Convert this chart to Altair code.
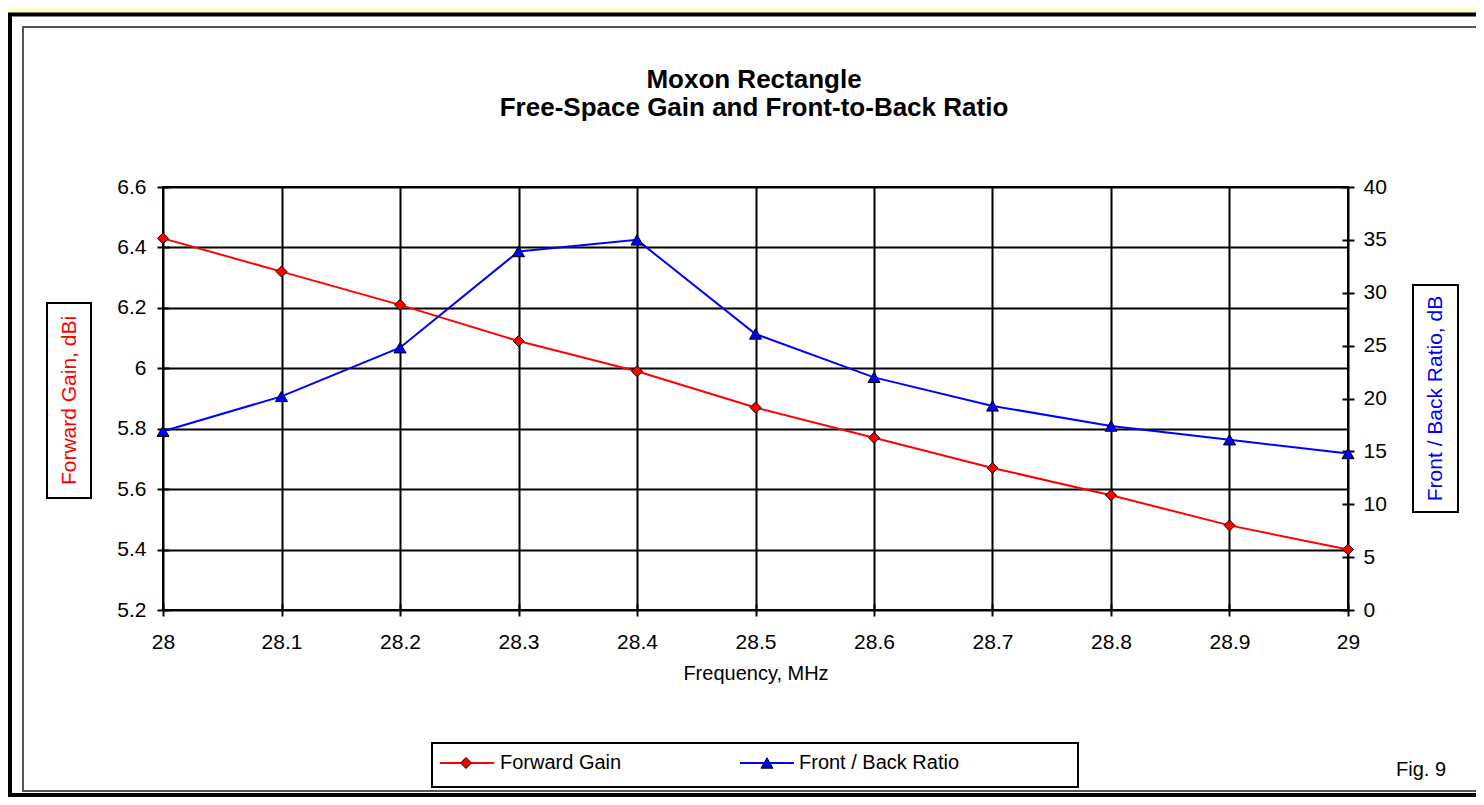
import altair as alt
import pandas as pd

# ---- data ----
freq = [28.0, 28.1, 28.2, 28.3, 28.4, 28.5, 28.6, 28.7, 28.8, 28.9, 29.0]
gain = [6.43, 6.32, 6.21, 6.09, 5.99, 5.87, 5.77, 5.67, 5.58, 5.48, 5.40]
fb = [16.9, 20.2, 24.8, 33.9, 35.0, 26.1, 22.0, 19.3, 17.4, 16.1, 14.8]

x_ticks = [28.0, 28.1, 28.2, 28.3, 28.4, 28.5, 28.6, 28.7, 28.8, 28.9, 29.0]
gain_ticks = [5.2, 5.4, 5.6, 5.8, 6.0, 6.2, 6.4, 6.6]
fb_ticks = [0, 5, 10, 15, 20, 25, 30, 35, 40]

title_lines = "Moxon Rectangle\nFree-Space Gain and Front-to-Back Ratio"
gain_label = "Forward Gain"
fb_label = "Front / Back Ratio"
gain_axis_title = "Forward Gain, dBi"
fb_axis_title = "Front / Back Ratio, dB"
x_title = "Frequency, MHz"
fig_label = "Fig. 9"

df = pd.DataFrame({"freq": freq, "gain": gain, "fb": fb})
one = pd.DataFrame({"k": [0]})

FONT = "Liberation Sans"
W, H = 1185, 423
PAD = {"left": 155, "top": 179, "right": 128, "bottom": 187}
YELLOW = "#FFFFC6"

x_enc = alt.X(
    "freq:Q",
    scale=alt.Scale(domain=[28, 29], nice=False, zero=False),
    axis=alt.Axis(
        orient="bottom", values=x_ticks, format="~f", title=x_title,
        offset=-6, tickSize=12, labelPadding=15, titlePadding=11, grid=True,
        labelFlush=False,
    ),
)

gain_chart = alt.Chart(df).mark_line(
    color="#FF0000", strokeWidth=2,
    point=alt.OverlayMarkDef(shape="diamond", filled=True, fill="#FF0000",
                             stroke="black", strokeWidth=1, size=121, opacity=1),
).encode(
    x=x_enc,
    y=alt.Y("gain:Q", scale=alt.Scale(domain=[5.2, 6.6], nice=False, zero=False),
            axis=alt.Axis(orient="left", values=gain_ticks, format="~f", title=None,
                          offset=-6, tickSize=12, labelPadding=11, grid=True,
                          labelFlush=False)),
)

fb_chart = alt.Chart(df).mark_line(
    color="#0000FF", strokeWidth=2,
    point=alt.OverlayMarkDef(shape="triangle-up", filled=True, fill="#0000FF",
                             stroke="black", strokeWidth=1, size=144, opacity=1),
).encode(
    x=x_enc,
    y=alt.Y("fb:Q", scale=alt.Scale(domain=[0, 40], nice=False, zero=True),
            axis=alt.Axis(orient="right", values=fb_ticks, format="~f", title=None,
                          offset=-6, tickSize=12, labelPadding=9, grid=False,
                          labelFlush=False)),
)


def box(x, x2, y, y2, **kw):
    return alt.Chart(one).mark_rect(**kw).encode(
        x=alt.value(x), x2=alt.value(x2), y=alt.value(y), y2=alt.value(y2))


def txt(t, x, y, **kw):
    base = dict(font=FONT, fontSize=20, color="black")
    base.update(kw)
    return alt.Chart(one).mark_text(**base).encode(
        x=alt.value(x), y=alt.value(y), text=alt.value(t))


def rule(x, x2, y, color):
    return alt.Chart(one).mark_rule(color=color, strokeWidth=2).encode(
        x=alt.value(x), x2=alt.value(x2), y=alt.value(y))


def sym(x, y, shape, color, size):
    return alt.Chart(one).mark_point(shape=shape, filled=True, fill=color,
                                     stroke="black", strokeWidth=1, size=size,
                                     opacity=1).encode(
        x=alt.value(x), y=alt.value(y))


# decorative frame
yellow_strip = box(-160, 1320, -185, -174, fill=YELLOW)
outer_frame = box(-153, 1330, -172.5, 608, fill="transparent", stroke="black", strokeWidth=4)
inner_frame = box(-140, 1330, -160, 604, fill="transparent", stroke="#555555", strokeWidth=2)
left_box = box(-116, -72, 116, 311, fill="transparent", stroke="black", strokeWidth=2)
right_box = box(1250, 1295, 98, 325, fill="transparent", stroke="black", strokeWidth=2)
legend_box = box(269, 915, 556, 600, fill="transparent", stroke="black", strokeWidth=2)

title = txt(title_lines, 591, -99, fontSize=26, fontWeight="bold",
            lineBreak="\n", lineHeight=28, align="center", baseline="alphabetic")
left_title = txt(gain_axis_title, -93, 213.5, angle=270, align="center",
                 baseline="middle", color="#FF0000", fontSize=21)
right_title = txt(fb_axis_title, 1273, 211.5, angle=270, align="center",
                  baseline="middle", color="#0000FF", fontSize=21)
fig = txt(fig_label, 1233, 583, align="left", baseline="middle")

leg = [
    rule(277, 331, 576, "#FF0000"),
    sym(303, 576, "diamond", "#FF0000", 121),
    txt(gain_label, 337, 576, align="left", baseline="middle"),
    rule(577, 631, 576, "#0000FF"),
    sym(604, 576, "triangle-up", "#0000FF", 144),
    txt(fb_label, 636, 576, align="left", baseline="middle"),
]

chart = alt.layer(
    yellow_strip, outer_frame, inner_frame, left_box, right_box, legend_box,
    gain_chart, fb_chart,
    title, left_title, right_title, fig, *leg,
).resolve_scale(
    y="independent"
).properties(
    width=W, height=H,
    padding=PAD,
    autosize=alt.AutoSizeParams(type="none"),
    background="white",
).configure_view(
    stroke="black", strokeWidth=2, fill="white",
).configure_axis(
    labelFont=FONT, labelFontSize=21, labelColor="black",
    titleFont=FONT, titleFontSize=20, titleFontWeight="normal", titleColor="black",
    tickColor="black", tickWidth=2, domain=False,
    gridColor="black", gridWidth=2, gridOpacity=1,
)

chart.save("out.html", embed_options={"renderer": "svg", "actions": False})
